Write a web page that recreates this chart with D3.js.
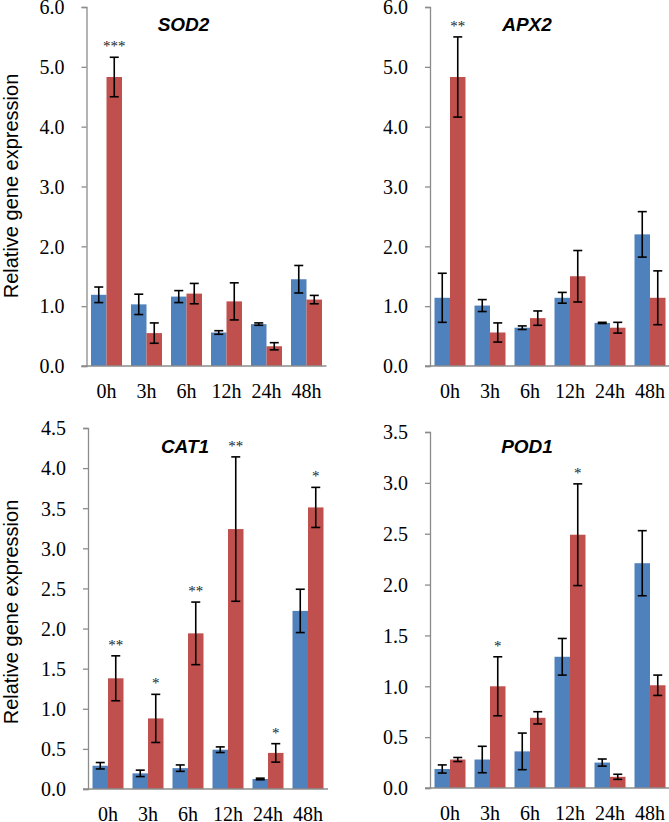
<!DOCTYPE html>
<html><head><meta charset="utf-8">
<script src="https://cdn.jsdelivr.net/npm/d3@7"></script>
<style>html,body{margin:0;padding:0;background:#fff;}svg{display:block;}</style>
</head><body>
<script>
const categories = ["0h","3h","6h","12h","24h","48h"];

const sod2Control    = [1.19,1.03,1.16,0.56,0.70,1.45];
const sod2ControlErr = [0.13,0.17,0.10,0.03,0.02,0.23];
const sod2Treated    = [4.83,0.55,1.21,1.08,0.33,1.11];
const sod2TreatedErr = [0.33,0.17,0.17,0.31,0.06,0.07];
const sod2Sig        = ["***","","","","",""];

const apx2Control    = [1.14,1.01,0.64,1.14,0.72,2.20];
const apx2ControlErr = [0.41,0.10,0.03,0.09,0.01,0.38];
const apx2Treated    = [4.83,0.56,0.80,1.50,0.64,1.14];
const apx2TreatedErr = [0.67,0.16,0.12,0.43,0.09,0.45];
const apx2Sig        = ["**","","","","",""];

const cat1Control    = [0.29,0.195,0.26,0.49,0.125,2.22];
const cat1ControlErr = [0.04,0.04,0.04,0.035,0.01,0.27];
const cat1Treated    = [1.38,0.88,1.94,3.24,0.45,3.51];
const cat1TreatedErr = [0.28,0.30,0.39,0.90,0.115,0.25];
const cat1Sig        = ["**","*","**","**","*","*"];

const pod1Control    = [0.187,0.28,0.36,1.29,0.25,2.21];
const pod1ControlErr = [0.04,0.13,0.18,0.18,0.035,0.32];
const pod1Treated    = [0.28,1.00,0.69,2.49,0.11,1.01];
const pod1TreatedErr = [0.02,0.29,0.06,0.50,0.025,0.10];
const pod1Sig        = ["","*","","*","",""];

const yTicksA = [0,1,2,3,4,5,6];
const yTicksB = [0,0.5,1,1.5,2,2.5,3,3.5,4,4.5];
const yTicksC = [0,0.5,1,1.5,2,2.5,3,3.5];

const genes = ["SOD2","APX2","CAT1","POD1"];
const yLabel = "Relative gene expression";
const seriesKeys = ["control","treated"];

const colors = {control:"#4F81BD", treated:"#C0504D"};
const axisColor = "#8C8C8C";
const SERIF = "Liberation Serif";
const SANS = "Liberation Sans";

const W = 669, H = 822;
const svg = d3.select("body").append("svg").attr("width", W).attr("height", H)
  .attr("font-family", SERIF);

const panels = [
  {gene:genes[0], ctl:sod2Control, ctlE:sod2ControlErr, trt:sod2Treated, trtE:sod2TreatedErr, sig:sod2Sig,
   max:6, ticks:yTicksA, x0:86.5, top:7, bottom:366, titleY:31, label:true, labelY:186},
  {gene:genes[1], ctl:apx2Control, ctlE:apx2ControlErr, trt:apx2Treated, trtE:apx2TreatedErr, sig:apx2Sig,
   max:6, ticks:yTicksA, x0:430, top:7, bottom:366, titleY:31, label:false},
  {gene:genes[2], ctl:cat1Control, ctlE:cat1ControlErr, trt:cat1Treated, trtE:cat1TreatedErr, sig:cat1Sig,
   max:4.5, ticks:yTicksB, x0:88, top:428, bottom:789, titleY:453, label:true, labelY:612},
  {gene:genes[3], ctl:pod1Control, ctlE:pod1ControlErr, trt:pod1Treated, trtE:pod1TreatedErr, sig:pod1Sig,
   max:3.5, ticks:yTicksC, x0:430, top:432, bottom:788, titleY:453, label:false}
];

panels.forEach(p => {
  const g = svg.append("g");
  const x = d3.scaleBand().domain(categories).range([p.x0, p.x0 + 240])
    .paddingInner(0.225).paddingOuter(0.1125);
  const xs = d3.scaleBand().domain(seriesKeys).range([0, x.bandwidth()]).padding(0);
  const y = d3.scaleLinear().domain([0, p.max]).range([p.bottom, p.top]);

  const rows = categories.map((c,i) => ({
    cat:c, sig:p.sig[i],
    vals:[{k:"control", v:p.ctl[i], e:p.ctlE[i]}, {k:"treated", v:p.trt[i], e:p.trtE[i]}]
  }));

  const grp = g.selectAll("g.grp").data(rows).join("g").attr("class","grp")
    .attr("transform", d => `translate(${x(d.cat)},0)`);
  grp.selectAll("rect").data(d => d.vals).join("rect")
    .attr("x", d => xs(d.k)).attr("width", xs.bandwidth())
    .attr("y", d => y(d.v)).attr("height", d => y(0) - y(d.v))
    .attr("fill", d => colors[d.k]);

  const eb = grp.selectAll("g.eb").data(d => d.vals).join("g").attr("class","eb")
    .attr("transform", d => `translate(${xs(d.k) + xs.bandwidth()/2},0)`);
  const hi = d => y(d.v + d.e), lo = d => y(Math.max(0, d.v - d.e));
  eb.append("line").attr("x1",0).attr("x2",0).attr("y1", hi).attr("y2", lo)
    .attr("stroke","#000").attr("stroke-width",1.6);
  eb.append("line").attr("x1",-4.5).attr("x2",4.5).attr("y1", hi).attr("y2", hi)
    .attr("stroke","#000").attr("stroke-width",1.6);
  eb.append("line").attr("x1",-4.5).attr("x2",4.5).attr("y1", lo).attr("y2", lo)
    .attr("stroke","#000").attr("stroke-width",1.6);

  grp.filter(d => d.sig).append("text")
    .attr("x", xs("treated") + xs.bandwidth()/2)
    .attr("y", d => y(d.vals[1].v + d.vals[1].e) - 6)
    .attr("text-anchor","middle")
    .attr("font-family", SERIF).attr("font-size", 15).attr("fill","#222")
    .text(d => d.sig);

  const ya = g.append("g").attr("transform", `translate(${p.x0},0)`)
    .call(d3.axisLeft(y).tickValues(p.ticks).tickFormat(d3.format(".1f")).tickSizeOuter(0).tickSize(5).tickPadding(17));
  ya.attr("font-family", SERIF).attr("font-size", 20);
  ya.select(".domain").attr("stroke", axisColor).attr("stroke-width",1.3);
  ya.selectAll(".tick line").attr("stroke", axisColor).attr("stroke-width",1.3);
  ya.selectAll(".tick text").attr("font-family", SERIF).attr("font-size", 20).attr("fill","#000")
    .attr("dy","0.34em");

  const xa = g.append("g").attr("transform", `translate(0,${p.bottom})`)
    .call(d3.axisBottom(x).tickSize(0).tickSizeOuter(0).tickPadding(0));
  xa.attr("font-family", SERIF).attr("font-size", 20);
  xa.select(".domain").remove();
  xa.append("line").attr("x1", p.x0 - 5).attr("x2", p.x0 + 240)
    .attr("y1", 0).attr("y2", 0).attr("stroke", axisColor).attr("stroke-width",1.3);
  xa.selectAll(".tick text").attr("font-family", SERIF).attr("font-size", 20).attr("fill","#000")
    .attr("y", 32).attr("dy", 0);

  g.append("text").attr("x", p.x0 + 97).attr("y", p.titleY).attr("text-anchor","middle")
    .attr("font-family", SANS).attr("font-weight","bold").attr("font-style","italic")
    .attr("font-size", 19).attr("fill","#000").text(p.gene);

  if (p.label) {
    g.append("text").attr("transform", `translate(17.5,${p.labelY}) rotate(-90)`)
      .attr("text-anchor","middle").attr("font-family", SANS).attr("font-size", 20)
      .attr("fill","#000").text(yLabel);
  }
});
</script>
</body></html>
